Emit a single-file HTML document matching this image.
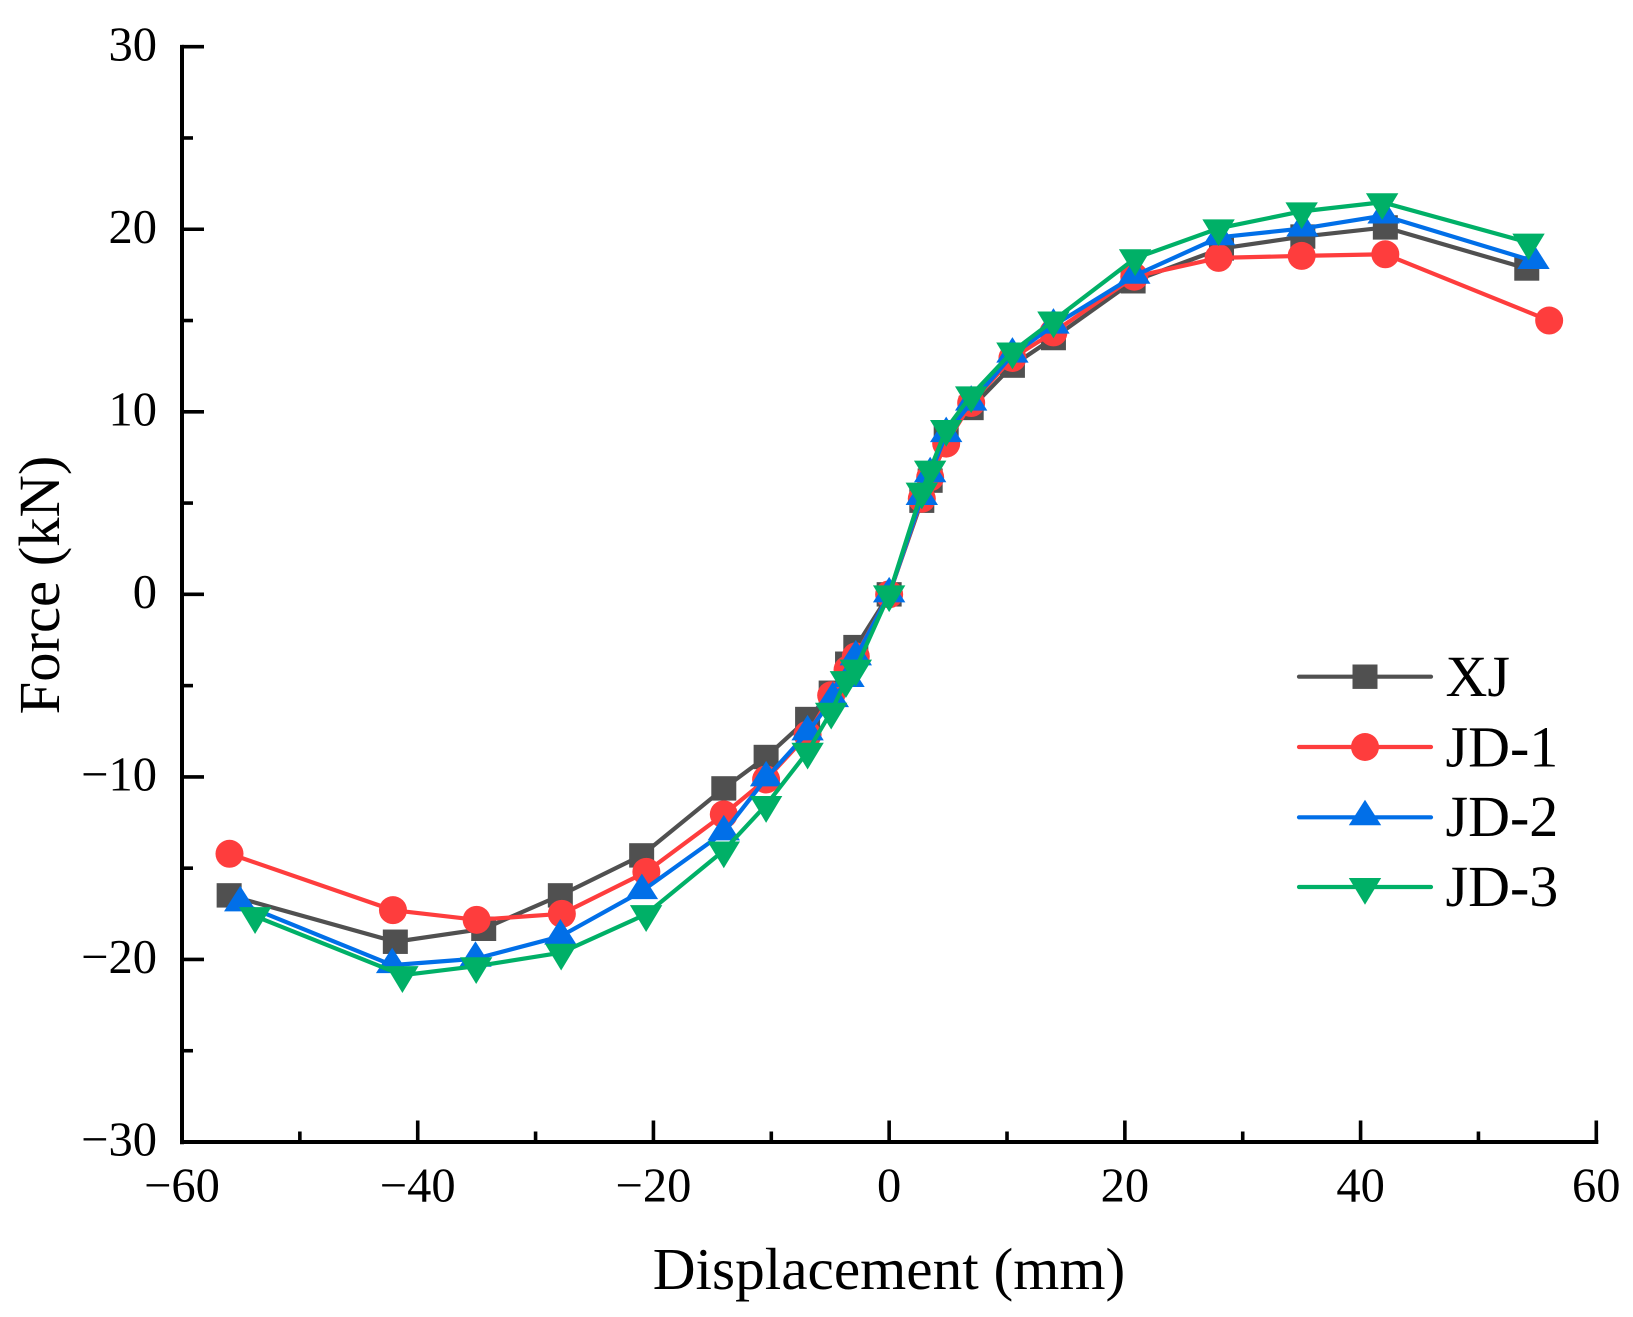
<!DOCTYPE html>
<html lang="en">
<head>
<meta charset="utf-8">
<title>Force vs Displacement</title>
<style>
html,body{margin:0;padding:0;background:#fff;}
svg{display:block;}
text{font-family:"Liberation Serif",serif;fill:#000;}
</style>
</head>
<body>
<svg id="chart" xmlns="http://www.w3.org/2000/svg" width="1633" height="1317" viewBox="0 0 1633 1317">
  <rect x="0" y="0" width="1633" height="1317" fill="#fff"/>
  <g id="axes"></g>
  <g id="plot"></g>
  <text x="889" y="1289" text-anchor="middle" font-size="59.3">Displacement (mm)</text>
  <text transform="translate(59,585) rotate(-90)" text-anchor="middle" font-size="58.6">Force (kN)</text>
  <g id="legend"></g>
</svg>
<script>
var xTicksMajor = [-60, -40, -20, 0, 20, 40, 60];
var xTicksMinor = [-50, -30, -10, 10, 30, 50];
var yTicksMajor = [-30, -20, -10, 0, 10, 20, 30];
var yTicksMinor = [-25, -15, -5, 5, 15, 25];

var seriesNames = ['XJ', 'JD-1', 'JD-2', 'JD-3'];

var xjX = [-56,-41.9,-34.4,-27.9,-21,-14.03,-10.44,-6.92,-4.92,-3.53,-2.83,0,2.77,3.48,4.84,6.96,10.46,13.94,20.7,28.2,35.1,42.1,54.1];
var xjY = [-16.49,-19.03,-18.32,-16.49,-14.3,-10.63,-8.91,-6.83,-5.39,-3.8,-2.89,0,5.13,6.23,8.82,10.21,12.53,14.04,17.15,18.95,19.6,20.1,17.85];

var jd1X = [-55.97,-42.1,-35,-27.77,-20.6,-14.03,-10.44,-6.92,-4.92,-3.53,-2.83,0,2.77,3.48,4.84,6.96,10.46,13.94,20.8,27.95,35,42.1,56];
var jd1Y = [-14.21,-17.3,-17.83,-17.5,-15.2,-12.05,-10.14,-7.69,-5.53,-4.13,-3.4,0,5.24,6.41,8.26,10.48,12.95,14.35,17.4,18.43,18.54,18.63,15];

var jd2X = [-55.06,-42.17,-35.1,-27.9,-20.98,-14.03,-10.44,-6.92,-4.78,-3.45,-2.83,0,2.77,3.48,4.84,6.96,10.46,13.94,20.8,28,35.07,41.95,54.67];
var jd2Y = [-16.93,-20.31,-19.96,-18.74,-16.26,-13.04,-10.08,-7.56,-5.74,-4.64,-3.45,0,5.33,6.58,8.78,10.5,13.13,14.72,17.45,19.56,20.04,20.75,18.26];

var jd3X = [-53.8,-41.3,-35.04,-27.83,-20.62,-14.03,-10.44,-6.92,-4.92,-3.67,-2.83,0,2.77,3.48,4.84,6.96,10.46,13.94,20.87,27.95,35,41.83,54.25];
var jd3Y = [-17.63,-20.86,-20.37,-19.63,-17.52,-14.03,-11.54,-8.62,-6.43,-4.7,-4.07,0,5.63,6.83,9.06,10.9,13.3,15,18.41,20.05,20.98,21.48,19.27];

var NS = 'http://www.w3.org/2000/svg';
var plotLeft = 182, plotRight = 1596.3, plotTop = 46.7, plotBottom = 1142;
var xMin = -60, xMax = 60, yMin = -30, yMax = 30;

function sx(v) { return plotLeft + (v - xMin) / (xMax - xMin) * (plotRight - plotLeft); }
function sy(v) { return plotBottom - (v - yMin) / (yMax - yMin) * (plotBottom - plotTop); }
function label(v) { return v < 0 ? '\u2212' + Math.abs(v) : String(v); }

function make(tag, attrs, parent) {
  var el = document.createElementNS(NS, tag);
  for (var k in attrs) el.setAttribute(k, attrs[k]);
  parent.appendChild(el);
  return el;
}

function drawMarker(kind, cx, cy, color, parent) {
  var el;
  if (kind === 'square') {
    el = make('rect', {x: cx - 12.5, y: cy - 12.2, width: 25, height: 24.4, fill: color}, parent);
  } else if (kind === 'circle') {
    el = make('circle', {cx: cx, cy: cy, r: 14, fill: color}, parent);
  } else if (kind === 'up') {
    el = make('polygon', {points: (cx - 16.2) + ',' + (cy + 8) + ' ' + (cx + 16.2) + ',' + (cy + 8) + ' ' + cx + ',' + (cy - 17.5), fill: color}, parent);
  } else {
    el = make('polygon', {points: (cx - 16.2) + ',' + (cy - 9) + ' ' + (cx + 16.2) + ',' + (cy - 9) + ' ' + cx + ',' + (cy + 17.8), fill: color}, parent);
  }
  return el;
}

var axes = document.getElementById('axes');
var plot = document.getElementById('plot');
var legend = document.getElementById('legend');

var axisY = make('line', {x1: plotLeft, y1: plotTop - 1.8, x2: plotLeft, y2: plotBottom + 2.2, stroke: '#000', 'stroke-width': 4}, axes);



var axisX = make('line', {x1: plotLeft - 2, y1: plotBottom, x2: plotRight + 2, y2: plotBottom, stroke: '#000', 'stroke-width': 4}, axes);



xTicksMajor.forEach(function (v) {
  var t = make('line', {x1: sx(v), y1: plotBottom, x2: sx(v), y2: plotBottom - 21.5, stroke: '#000', 'stroke-width': 3.6}, axes);
  
  
  var l = make('text', {x: sx(v), y: 1201.5, 'text-anchor': 'middle', 'font-size': 48.5}, axes);
  l.textContent = label(v);
  
  
});
xTicksMinor.forEach(function (v) {
  var t = make('line', {x1: sx(v), y1: plotBottom, x2: sx(v), y2: plotBottom - 10.5, stroke: '#000', 'stroke-width': 3.6}, axes);
  
  
});
yTicksMajor.forEach(function (v) {
  var t = make('line', {x1: plotLeft, y1: sy(v), x2: plotLeft + 22, y2: sy(v), stroke: '#000', 'stroke-width': 3.6}, axes);
  
  
  var l = make('text', {x: 157, y: sy(v) + 13.6, 'text-anchor': 'end', 'font-size': 48.5}, axes);
  l.textContent = label(v);
  
  
});
yTicksMinor.forEach(function (v) {
  var t = make('line', {x1: plotLeft, y1: sy(v), x2: plotLeft + 11, y2: sy(v), stroke: '#000', 'stroke-width': 3.6}, axes);
  
  
});

var seriesXs = [xjX, jd1X, jd2X, jd3X];
var seriesYs = [xjY, jd1Y, jd2Y, jd3Y];
var seriesColors = ['#505050', '#fe3d3d', '#016fe8', '#00b067'];
var seriesMarkers = ['square', 'circle', 'up', 'down'];
var seriesSlugs = ['xj', 'jd-1', 'jd-2', 'jd-3'];
var legendLineY = [676.7, 747, 817.3, 887];
var legendTextY = [696, 766.3, 836, 906];

seriesNames.forEach(function (name, s) {
  var color = seriesColors[s];
  var g = make('g', {}, plot);
  
  
  var pts = seriesXs[s].map(function (x, i) { return sx(x) + ',' + sy(seriesYs[s][i]); }).join(' ');
  var line = make('polyline', {points: pts, fill: 'none', stroke: color, 'stroke-width': 4.2, 'stroke-linejoin': 'round'}, g);
  
  
  seriesXs[s].forEach(function (x, i) {
    var m = drawMarker(seriesMarkers[s], sx(x), sy(seriesYs[s][i]), color, g);
    
    
  });

  var lg = make('g', {}, legend);
  
  
  var ll = make('line', {x1: 1299, y1: legendLineY[s], x2: 1431, y2: legendLineY[s], stroke: color, 'stroke-width': 4.2, 'stroke-linecap': 'round'}, lg);
  
  
  var lm = drawMarker(seriesMarkers[s], 1365, legendLineY[s], color, lg);
  
  
  var lt = make('text', {x: 1445.5, y: legendTextY[s], 'font-size': 58}, lg);
  lt.textContent = name;
  
  
});
</script>
</body>
</html>
